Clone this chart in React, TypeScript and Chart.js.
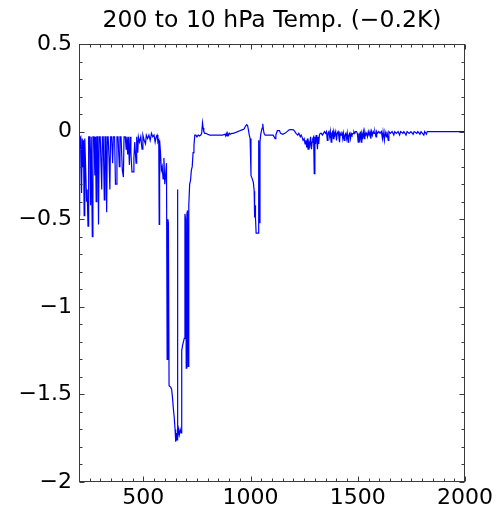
import React, { useEffect, useRef } from "react";
import { Chart, registerables } from "chart.js";

Chart.register(...registerables);

const TITLE = "200 to 10 hPa Temp. (\u22120.2K)";
const X_MIN = 200;
const X_MAX = 2000;
const Y_MIN = -2;
const Y_MAX = 0.5;
const X_TICKS = [500, 1000, 1500, 2000];
const Y_TICKS = [-2, -1.5, -1, -0.5, 0, 0.5];

// Segment A: 200–600 (dense spiky region)
const wnA = [200, 202, 204, 208, 212, 215, 219, 221, 224, 227, 232, 235, 238, 242, 245, 250, 254, 257, 262, 265, 270, 274, 277, 280, 283, 287, 291, 294, 299, 303, 306, 309, 313, 318, 321, 325, 329, 332, 336, 340, 344, 347, 352, 357, 360, 366, 370, 374, 377, 382, 388, 391, 396, 402, 407, 410, 416, 420, 423, 427, 430, 435, 438, 442, 447, 452, 456, 460, 466, 469, 474, 477, 482, 488, 494, 498, 504, 510, 514, 520, 526, 532, 538, 544, 550, 555, 560, 564, 568, 572, 574, 576, 580, 584, 588, 592, 596, 600];
const dtA = [-0.10, -0.48, -0.04, -0.03, -0.35, -0.04, -0.2, -0.05, -0.48, -0.04, -0.25, -0.40, -0.33, -0.54, -0.03, -0.03, -0.42, -0.03, -0.60, -0.03, -0.03, -0.25, -0.03, -0.40, -0.03, -0.03, -0.53, -0.03, -0.03, -0.20, -0.33, -0.03, -0.03, -0.39, -0.03, -0.03, -0.46, -0.03, -0.03, -0.15, -0.33, -0.03, -0.03, -0.18, -0.03, -0.03, -0.30, -0.30, -0.03, -0.03, -0.20, -0.03, -0.03, -0.22, -0.26, -0.03, -0.03, -0.10, -0.03, -0.13, -0.03, -0.19, -0.03, -0.12, -0.23, -0.23, -0.15, -0.06, -0.18, -0.03, -0.12, -0.03, -0.06, -0.03, -0.10, -0.02, -0.05, -0.07, -0.02, -0.04, -0.02, -0.05, -0.01, -0.03, -0.02, -0.06, -0.03, -0.02, -0.06, -0.05, -0.53, -0.05, -0.12, -0.22, -0.20, -0.27, -0.15, -0.30];

// Segment B: 600–775 (deep trough)
const wnB = [604, 608, 611, 614, 617, 620, 624, 628, 632, 636, 640, 644, 648, 651, 654, 657, 659, 661, 664, 668, 672, 676, 679, 683, 687, 691, 694, 697, 700, 703, 706, 709, 712, 716, 720, 724, 728, 732, 736, 740, 745, 750, 756, 762, 768, 772];
const dtB = [-0.25, -0.18, -1.30, -0.50, -0.52, -1.45, -1.45, -1.46, -1.47, -1.52, -1.58, -1.63, -1.70, -1.77, -1.72, -1.76, -0.33, -1.75, -1.70, -1.73, -1.70, -1.72, -1.25, -1.22, -1.20, -1.18, -0.47, -0.50, -1.35, -0.47, -0.45, -1.34, -0.42, -0.30, -0.28, -0.22, -0.20, -0.12, -0.08, -0.02, -0.02, -0.03, -0.02, -0.025, -0.02, -0.01];

// Segment C: 775–1120 (flat with dip near 1000–1045)
const wnC = [776, 779, 782, 786, 792, 800, 810, 830, 850, 870, 880, 884, 887, 891, 894, 898, 902, 906, 912, 920, 930, 940, 950, 960, 970, 976, 982, 986, 990, 994, 998, 1002, 1008, 1013, 1017, 1019, 1021, 1023, 1026, 1030, 1035, 1037, 1039, 1042, 1044, 1047, 1050, 1054, 1057, 1060, 1063, 1068, 1075, 1085, 1095, 1105, 1110, 1114, 1118];
const dtC = [0.05, 0.02, 0.0, -0.01, -0.01, -0.015, -0.02, -0.02, -0.02, -0.02, -0.015, -0.025, -0.01, -0.025, -0.01, -0.02, -0.01, -0.015, -0.01, -0.01, -0.005, 0.0, 0.005, 0.01, 0.015, 0.03, 0.04, 0.035, 0.01, -0.02, -0.04, -0.25, -0.27, -0.29, -0.34, -0.49, -0.42, -0.49, -0.58, -0.58, -0.58, -0.05, -0.07, -0.52, -0.06, -0.02, 0.0, 0.02, 0.045, 0.01, -0.01, -0.02, -0.02, -0.02, -0.02, -0.02, -0.03, -0.04, -0.02];

// Segment D: 1120–2000 (small noise, decaying to zero)
const wnD = [1125, 1135, 1140, 1150, 1160, 1170, 1180, 1190, 1200, 1207, 1212, 1220, 1225, 1232, 1236, 1240, 1245, 1250, 1254, 1258, 1262, 1265, 1268, 1272, 1276, 1280, 1284, 1287, 1290, 1294, 1297, 1300, 1303, 1306, 1309, 1312, 1315, 1318, 1321, 1325, 1330, 1335, 1340, 1345, 1350, 1354, 1358, 1361, 1365, 1369, 1372, 1376, 1379, 1383, 1386, 1389, 1393, 1397, 1401, 1404, 1408, 1412, 1415, 1418, 1422, 1426, 1430, 1433, 1437, 1440, 1444, 1448, 1451, 1455, 1458, 1462, 1466, 1469, 1473, 1478, 1482, 1486, 1490, 1494, 1498, 1502, 1505, 1509, 1512, 1516, 1519, 1523, 1526, 1530, 1533, 1537, 1541, 1545, 1549, 1553, 1557, 1561, 1564, 1568, 1572, 1576, 1580, 1585, 1588, 1592, 1598, 1604, 1610, 1615, 1618, 1624, 1627, 1633, 1636, 1642, 1645, 1652, 1660, 1668, 1672, 1680, 1688, 1695, 1700, 1710, 1715, 1725, 1730, 1740, 1748, 1758, 1763, 1775, 1780, 1790, 1795, 1808, 1812, 1820, 1824, 1900, 2000];
const dtD = [0.005, 0.005, -0.01, -0.015, -0.01, 0.0, 0.01, 0.012, 0.01, 0.0, -0.01, -0.02, -0.01, -0.03, -0.02, -0.03, -0.05, -0.04, -0.07, -0.05, -0.09, -0.04, -0.10, -0.06, -0.08, -0.03, -0.10, -0.06, -0.04, -0.03, -0.24, -0.03, -0.07, -0.02, -0.05, -0.10, -0.03, -0.07, -0.02, -0.01, -0.01, -0.02, -0.01, 0.0, -0.01, 0.0, -0.05, -0.01, 0.0, -0.03, 0.0, -0.06, -0.01, 0.0, -0.04, 0.0, -0.02, 0.0, -0.05, -0.01, 0.0, -0.03, -0.06, -0.01, -0.02, 0.0, -0.04, -0.01, -0.05, -0.02, -0.01, -0.04, -0.01, -0.06, -0.02, -0.01, -0.04, -0.01, -0.02, -0.01, 0.0, -0.01, 0.0, 0.0, -0.01, -0.06, -0.01, -0.04, 0.0, -0.06, -0.01, -0.03, 0.0, -0.04, 0.0, -0.02, -0.01, -0.03, 0.0, -0.02, 0.0, -0.04, 0.0, -0.02, 0.0, -0.01, 0.0, -0.03, 0.0, -0.01, 0.0, -0.01, 0.0, -0.04, 0.0, -0.05, 0.0, -0.03, 0.0, -0.05, 0.0, -0.01, 0.0, -0.02, 0.0, -0.01, 0.0, -0.02, 0.0, -0.01, 0.0, -0.02, 0.0, -0.01, 0.0, -0.015, 0.0, -0.01, 0.0, -0.015, 0.0, -0.02, 0.0, -0.015, 0.0, 0.0, 0.0];

const FONT = "'DejaVu Sans', sans-serif";

const framePlugin = {
  id: "frameTicks",
  afterDatasetsDraw(chart: any) {
    const { ctx, chartArea: a, scales } = chart;
    const xs = scales.x;
    const ys = scales.y;
    const L = Math.round(a.left) + 0.5;
    const R = Math.round(a.right) - 0.5;
    const T = Math.round(a.top) + 0.5;
    const B = Math.round(a.bottom) - 0.5;
    ctx.save();
    ctx.strokeStyle = "#3a3a3a";
    ctx.lineWidth = 1;
    ctx.strokeRect(L, T, R - L, B - T);
    ctx.beginPath();
    for (let v = X_MIN; v <= X_MAX; v += 50) {
      const major = v % 500 === 0;
      const len = major ? 5 : 3;
      const p = Math.round(xs.getPixelForValue(v)) + 0.5;
      ctx.moveTo(p, B);
      ctx.lineTo(p, B - len);
      ctx.moveTo(p, T);
      ctx.lineTo(p, T + len);
    }
    for (let i = 0; i <= 25; i++) {
      const v = Y_MIN + i * 0.1;
      const major = i % 5 === 0;
      const len = major ? 5 : 3;
      const p = Math.round(ys.getPixelForValue(v)) + 0.5;
      ctx.moveTo(L, p);
      ctx.lineTo(L + len, p);
      ctx.moveTo(R, p);
      ctx.lineTo(R - len, p);
    }
    ctx.stroke();
    ctx.restore();
  },
};

export default function App() {
  const ref = useRef<HTMLCanvasElement>(null);
  useEffect(() => {
    const xs = [...wnA, ...wnB, ...wnC, ...wnD];
    const ys = [...dtA, ...dtB, ...dtC, ...dtD];
    const points = xs.map((x, i) => ({ x, y: ys[i] }));
    const chart = new Chart(ref.current as HTMLCanvasElement, {
      type: "line",
      data: {
        datasets: [
          {
            data: points,
            borderColor: "#0000ff",
            borderWidth: 1.2,
            pointRadius: 0,
            tension: 0,
            fill: false,
          },
        ],
      },
      options: {
        animation: false,
        responsive: false,
        maintainAspectRatio: false,
        layout: { padding: { left: 0, right: 33, top: 0, bottom: 0 } },
        plugins: {
          legend: { display: false },
          tooltip: { enabled: false },
          title: {
            display: true,
            text: TITLE,
            fullSize: false,
            color: "#000",
            font: { family: FONT, size: 23.5, weight: "normal" },
            padding: { top: 7, bottom: 8.8 },
          },
        },
        scales: {
          x: {
            type: "linear",
            min: X_MIN,
            max: X_MAX,
            grid: { display: false, drawTicks: false },
            border: { display: false },
            afterBuildTicks: (s: any) => {
              s.ticks = X_TICKS.map((v) => ({ value: v }));
            },
            afterFit: (s: any) => {
              s.height = 36;
            },
            ticks: {
              autoSkip: false,
              maxRotation: 0,
              padding: 3,
              color: "#000",
              font: { family: FONT, size: 22 },
              callback: (v: any) => String(v),
            },
          },
          y: {
            type: "linear",
            min: Y_MIN,
            max: Y_MAX,
            grid: { display: false, drawTicks: false },
            border: { display: false },
            afterBuildTicks: (s: any) => {
              s.ticks = Y_TICKS.map((v) => ({ value: v }));
            },
            afterFit: (s: any) => {
              s.width = 79;
            },
            ticks: {
              padding: 7,
              color: "#000",
              font: { family: FONT, size: 22 },
              callback: (v: any) => String(v).replace("-", "\u2212"),
            },
          },
        },
      },
      plugins: [framePlugin],
    });
    return () => chart.destroy();
  }, []);
  return (
    <div style={{ position: "fixed", left: 0, top: 0, width: 498, height: 518, background: "#fff" }}>
      <canvas ref={ref} width={498} height={518} style={{ width: 498, height: 518, display: "block" }} />
    </div>
  );
}
